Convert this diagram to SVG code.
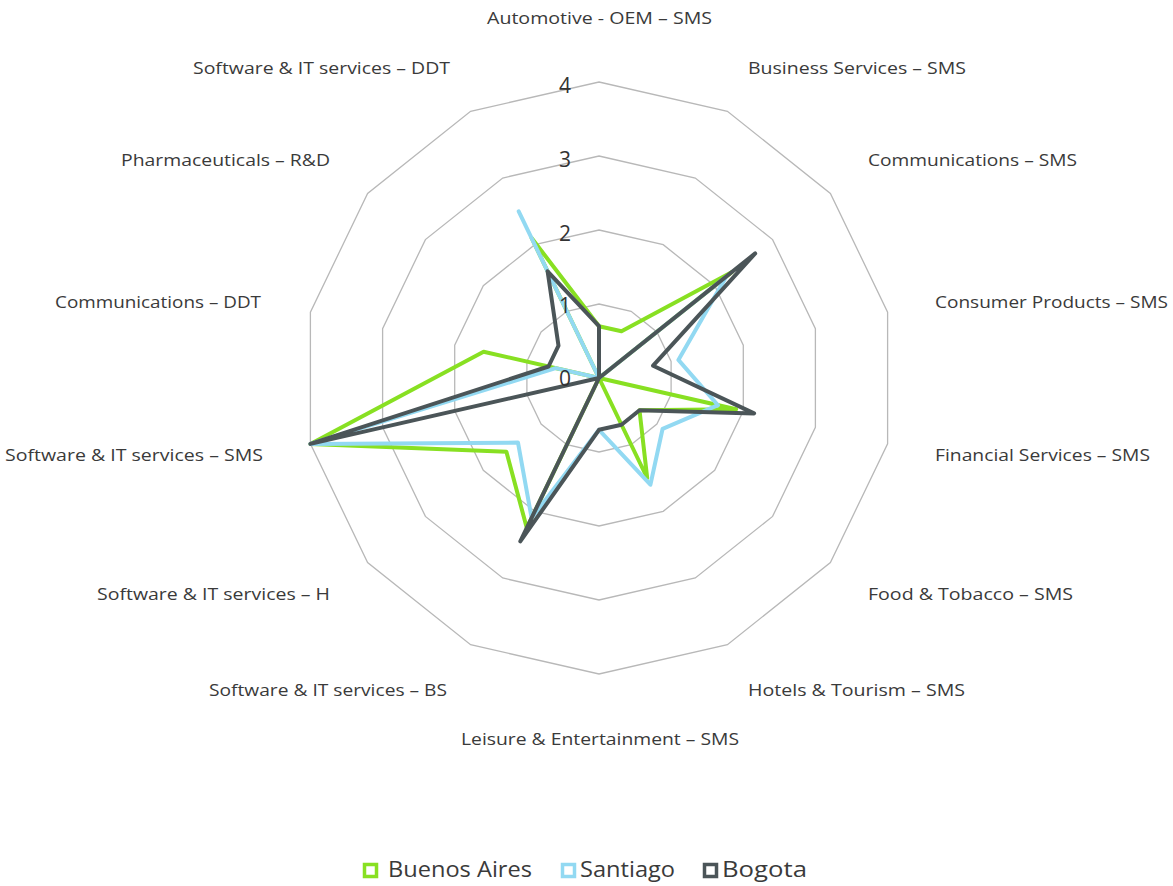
<svg xmlns="http://www.w3.org/2000/svg" width="1173" height="886" viewBox="0 0 1173 886">
<style>
.ring{fill:none;stroke:#b8b8b8;stroke-width:1.3}
.lbl{font-family:"Open Sans","Liberation Sans",sans-serif;font-size:17px;fill:#3a3a3a;text-anchor:middle}
.num{font-family:"Open Sans","Liberation Sans",sans-serif;font-size:21px;fill:#333;text-anchor:middle}
.ser{fill:none;stroke-width:4;stroke-linejoin:round;stroke-linecap:round}
.leg{font-family:"Open Sans","Liberation Sans",sans-serif;font-size:22px;fill:#3a3a3a}
.box{fill:none;stroke-width:3.5}
</style>
<rect width="1173" height="886" fill="#fff"/>
<g id="grid">
<polygon class="ring" points="599,304 631.1,311.3 656.9,331.9 671.1,361.5 671.1,394.5 656.9,424.1 631.1,444.7 599,452 566.9,444.7 541.1,424.1 526.9,394.5 526.9,361.5 541.1,331.9 566.9,311.3"/>
<polygon class="ring" points="599,230 663.2,244.7 714.7,285.7 743.3,345.1 743.3,410.9 714.7,470.3 663.2,511.3 599,526 534.8,511.3 483.3,470.3 454.7,410.9 454.7,345.1 483.3,285.7 534.8,244.7"/>
<polygon class="ring" points="599,156 695.3,178 772.6,239.6 815.4,328.6 815.4,427.4 772.6,516.4 695.3,578 599,600 502.7,578 425.4,516.4 382.6,427.4 382.6,328.6 425.4,239.6 502.7,178"/>
<polygon class="ring" points="599,82 727.4,111.3 830.4,193.5 887.6,312.1 887.6,443.9 830.4,562.5 727.4,644.7 599,674 470.6,644.7 367.6,562.5 310.4,443.9 310.4,312.1 367.6,193.5 470.6,111.3"/>
</g>
<g id="series">
<polygon id="buenos-aires" class="ser" stroke="#88e022" points="599,326.2 621.5,331.3 732.1,271.9 599,378 736.1,409.3 639.5,410.3 647.2,478 599,378 526.8,528 506.4,451.8 310.4,443.9 483.6,351.7 599,378 531.6,238"/>
<polygon id="santiago" class="ser" stroke="#92d9f2" stroke-width="3.5" points="599,378 599,378 726.3,276.5 678.4,359.9 718,405.2 662.6,428.8 650.4,484.7 599,429.8 531.6,518 518,442.6 310.4,443.9 555.7,368.1 599,378 518.7,211.3"/>
<polygon id="bogota" class="ser" stroke="#4b5558" points="599,326.2 599,378 755.2,253.4 653.1,365.7 754.1,413.4 639.5,410.3 621.5,424.7 599,429.8 520.3,541.3 599,378 310.4,443.9 548.5,366.5 558.5,345.7 547.6,271.3"/>
</g>
<g id="scale">
<text class="num" x="565" y="93">4</text>
<text class="num" x="565" y="167">3</text>
<text class="num" x="565" y="241">2</text>
<text class="num" x="565" y="313">1</text>
<text class="num" x="565" y="386">0</text>
</g>
<g id="labels">
<text class="lbl" x="599.5" y="24" textLength="225" lengthAdjust="spacingAndGlyphs">Automotive - OEM – SMS</text>
<text class="lbl" x="857" y="74" textLength="218" lengthAdjust="spacingAndGlyphs">Business Services – SMS</text>
<text class="lbl" x="972.5" y="166" textLength="209" lengthAdjust="spacingAndGlyphs">Communications – SMS</text>
<text class="lbl" x="1051.5" y="308" textLength="233" lengthAdjust="spacingAndGlyphs">Consumer Products – SMS</text>
<text class="lbl" x="1042.5" y="461" textLength="215" lengthAdjust="spacingAndGlyphs">Financial Services – SMS</text>
<text class="lbl" x="970.5" y="600" textLength="205" lengthAdjust="spacingAndGlyphs">Food &amp; Tobacco – SMS</text>
<text class="lbl" x="856.5" y="696" textLength="217" lengthAdjust="spacingAndGlyphs">Hotels &amp; Tourism – SMS</text>
<text class="lbl" x="600" y="745" textLength="278" lengthAdjust="spacingAndGlyphs">Leisure &amp; Entertainment – SMS</text>
<text class="lbl" x="328" y="696" textLength="238" lengthAdjust="spacingAndGlyphs">Software &amp; IT services – BS</text>
<text class="lbl" x="213.5" y="600" textLength="233" lengthAdjust="spacingAndGlyphs">Software &amp; IT services – H</text>
<text class="lbl" x="134" y="461" textLength="258" lengthAdjust="spacingAndGlyphs">Software &amp; IT services – SMS</text>
<text class="lbl" x="158" y="308" textLength="206" lengthAdjust="spacingAndGlyphs">Communications – DDT</text>
<text class="lbl" x="225.5" y="166" textLength="209" lengthAdjust="spacingAndGlyphs">Pharmaceuticals – R&amp;D</text>
<text class="lbl" x="321.5" y="74" textLength="257" lengthAdjust="spacingAndGlyphs">Software &amp; IT services – DDT</text>
</g>
<g id="legend">
<rect class="box" x="364.5" y="864.5" width="12" height="12" stroke="#88e022"/>
<text class="leg" x="388" y="877" textLength="144" lengthAdjust="spacingAndGlyphs">Buenos Aires</text>
<rect class="box" x="562.5" y="864.5" width="12" height="12" stroke="#92d9f2"/>
<text class="leg" x="580" y="877" textLength="95" lengthAdjust="spacingAndGlyphs">Santiago</text>
<rect class="box" x="704.5" y="864.5" width="12" height="12" stroke="#4b5558"/>
<text class="leg" x="722" y="877" textLength="85" lengthAdjust="spacingAndGlyphs">Bogota</text>
</g>
</svg>
